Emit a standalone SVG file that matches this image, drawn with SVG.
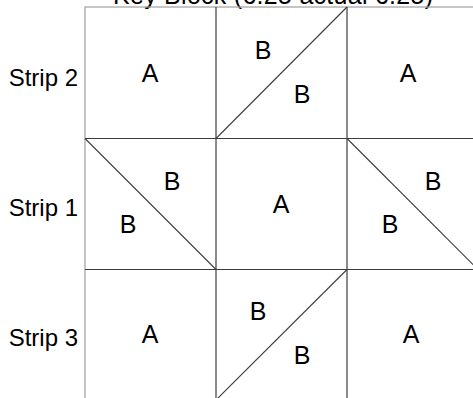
<svg xmlns="http://www.w3.org/2000/svg" width="473" height="398" viewBox="0 0 473 398">
<style>
text{font-family:"Liberation Sans",Arial,sans-serif;fill:#000}
.lbl{font-size:24px;text-anchor:end}
.t{font-size:25px;text-anchor:middle}
.title{font-size:25px;text-anchor:middle}
.outer{fill:none;stroke:#a0a0a0;stroke-width:1.2}
.grid{stroke:#3c3c3c;stroke-width:1.2;fill:none}
.diag{stroke:#3c3c3c;stroke-width:1.1;fill:none}
</style>
<rect width="473" height="398" fill="#fff"/>
<text class="title" x="273" y="4" textLength="320">Key Block (6.25 actual 6.25)</text>
<g id="labels">
<text class="lbl" x="78" y="86">Strip 2</text>
<text class="lbl" x="78" y="216">Strip 1</text>
<text class="lbl" x="78" y="346">Strip 3</text>
</g>
<g id="connectors">
<rect class="outer" x="85" y="7" width="393" height="393"/>
<line class="grid" x1="216" y1="7" x2="216" y2="400"/>
<line class="grid" x1="347" y1="7" x2="347" y2="400"/>
<line class="grid" x1="85" y1="138.5" x2="478" y2="138.5"/>
<line class="grid" x1="85" y1="269.5" x2="478" y2="269.5"/>
</g>
<g id="cell-s2-1"><text class="t" x="150" y="82">A</text></g>
<g id="cell-s2-2">
<line class="diag" x1="216" y1="138.5" x2="347" y2="7"/>
<text class="t" x="263" y="59">B</text>
<text class="t" x="302" y="103">B</text>
</g>
<g id="cell-s2-3"><text class="t" x="408" y="82">A</text></g>
<g id="cell-s1-1">
<line class="diag" x1="85" y1="138.5" x2="216" y2="269.5"/>
<text class="t" x="172" y="190">B</text>
<text class="t" x="128" y="233">B</text>
</g>
<g id="cell-s1-2"><text class="t" x="281" y="213">A</text></g>
<g id="cell-s1-3">
<line class="diag" x1="347" y1="138.5" x2="478" y2="269.5"/>
<text class="t" x="433" y="190">B</text>
<text class="t" x="390" y="233">B</text>
</g>
<g id="cell-s3-1"><text class="t" x="150" y="343">A</text></g>
<g id="cell-s3-2">
<line class="diag" x1="216" y1="400" x2="347" y2="269.5"/>
<text class="t" x="258" y="320">B</text>
<text class="t" x="302" y="364">B</text>
</g>
<g id="cell-s3-3"><text class="t" x="411" y="343">A</text></g>
</svg>
